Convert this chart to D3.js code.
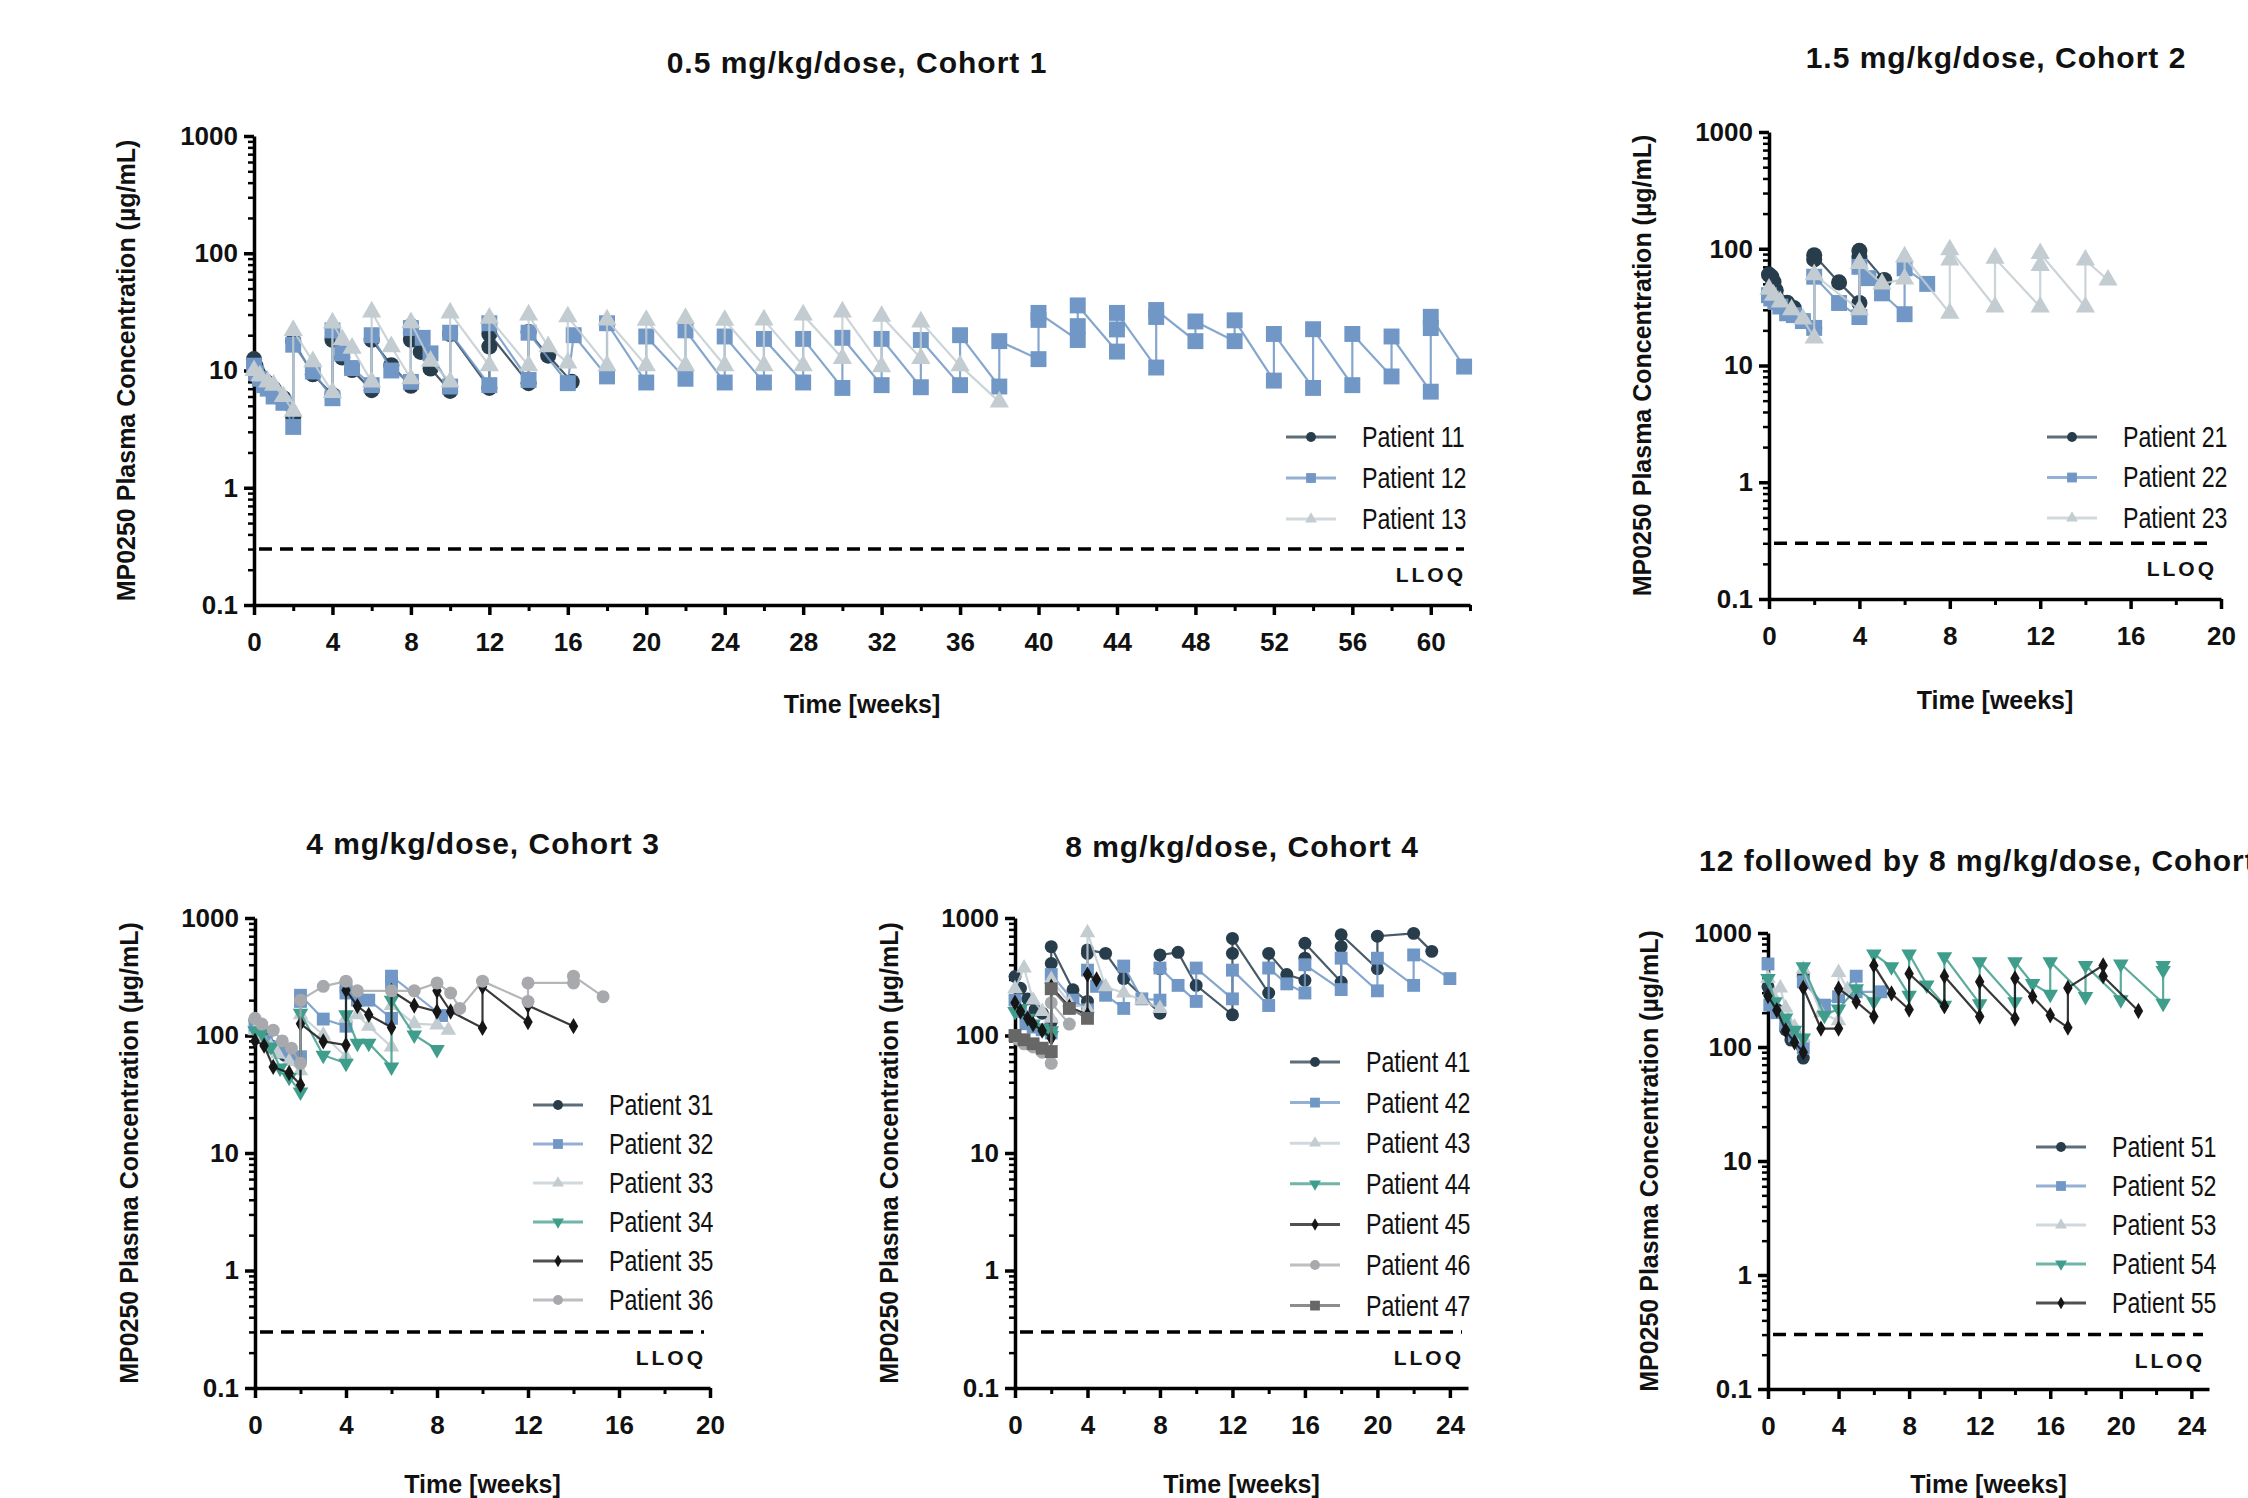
<!DOCTYPE html>
<html>
<head>
<meta charset="utf-8">
<script src="https://cdn.jsdelivr.net/npm/d3@7"></script>
<style>
  body { margin: 0; background: #fff; }
  svg { display: block; }
  text { font-family: "Liberation Sans", Arial, sans-serif; fill: #111; }
</style>
</head>
<body>
<svg id="chart" width="2248" height="1498"></svg>
<script>
// ---- data: [week, concentration ug/mL] ----
const LLOQ = 0.3;
const yMajor = [0.1, 1, 10, 100, 1000];

// cohort 1, 0.5 mg/kg
const p11 = [[0,12.5],[0.07,11],[0.15,10],[0.3,9],[0.5,8.3],[0.7,7.8],[1,7],[1.5,5.8],[2,4],[2,17.8],[3,9.3],[4,6.2],[4,18.3],[4.5,12.9],[5,10.1],[6,6.8],[6,18.3],[7,11.1],[8,7.4],[8,18.3],[8,21],[8,24],[8.5,14.4],[9,10.4],[10,6.7],[10,20.5],[12,7.1],[12,16],[12,20.5],[14,7.8],[14,21.3],[15,13.4],[16.2,8]];
const p12 = [[0,11],[0.1,9.5],[0.3,8.5],[0.5,7.5],[0.7,7],[1,6],[1.5,5.3],[2,3.3],[2,16.6],[3,9.8],[4,5.8],[4,22],[4.5,14],[5,10.5],[6,7.5],[6,20],[7,10],[8,8],[8,23],[8.6,19],[9,14],[10,7.3],[10,21],[12,7.5],[12,25.3],[14,8.3],[14,21],[16,7.8],[16.3,20],[18,8.9],[18,25.3],[20,7.9],[20,19.5],[22,8.5],[22,22],[24,7.9],[24,19.5],[26,7.9],[26,18.6],[28,7.9],[28,18.6],[30,7.1],[30,19],[32,7.5],[32,18.6],[34,7.2],[34,18.2],[36,7.5],[36,20],[38,7.3],[38,17.8],[40,12.5],[40,27],[40,31],[42,18.2],[42,23.9],[42,35.9],[44,14.5],[44,22.4],[44,31],[46,10.6],[46,28.6],[46,32.8],[48,17.8],[48,26.2],[50,17.8],[50,26.8],[52,8.2],[52,20.5],[54,7.1],[54,22.5],[56,7.5],[56,20.5],[58,8.9],[58,19.5],[60,6.6],[60,23],[60,28.7],[61.7,10.8]];
const p13 = [[0,10],[0.3,9],[0.7,8],[1,7.5],[1.5,6],[2,4.5],[2,22],[3,11.9],[4,6.5],[4,25.5],[4.5,18.3],[5,15.5],[6,8],[6,31.6],[7,16],[8,8.5],[8,25.6],[9,12],[10,8],[10,31],[12,11],[12,28],[14,11],[14,29.8],[15,16],[16,11.6],[16,28.7],[18,11],[18,27],[20,11],[20,26.8],[22,11],[22,27.8],[24,11],[24,26.8],[26,11],[26,27],[28,11],[28,29.8],[30,12.7],[30,31.6],[32,10.8],[32,29],[34,12.7],[34,26],[36,11],[38,5.4]];

// cohort 2, 1.5 mg/kg
const p21 = [[0,60],[0.1,57.6],[0.2,52],[0.3,44],[0.5,35],[0.8,34.5],[1.1,31],[1.5,24.3],[2,21],[2,81],[2,88],[3.1,51.5],[4,34.3],[4,85],[4,96],[5.1,54]];
const p22 = [[0,40],[0.1,37.5],[0.3,35],[0.5,32],[0.8,28],[1.1,27],[1.5,24],[2,21],[2,57.6],[3.1,34.3],[4,26],[4,70],[4.4,56],[5,41.5],[6,27.5],[6,68],[7,50]];
const p23 = [[0,45],[0.2,40],[0.5,35],[1,30],[1.5,25],[2,17.2],[2,60],[4,30],[4,75],[5,50],[6,55],[6,85],[8,28],[8,80],[8,98],[10,31.7],[10,83],[12,31.7],[12,72],[12,91],[14,31.7],[14,80],[15,54]];

// cohort 3, 4 mg/kg
const p31 = [[0,135],[0.1,120],[0.3,100],[0.5,90],[0.7,82],[1,75],[1.3,68]];
const p32 = [[0,120],[0.2,105],[0.5,90],[0.8,80],[1.1,72],[1.6,64],[2,66],[2,195],[2,220],[3,138],[4,120],[4,230],[4,260],[4.5,200],[5,200],[6,140],[6,280],[6,320],[8.2,148]];
const p33 = [[0,110],[0.3,95],[0.7,80],[1,70],[1.5,60],[2,50],[2,150],[3,101],[4,66],[4,140],[4.5,150],[5,120],[6,80],[6,180],[7,126],[8,123],[8.5,111]];
const p34 = [[0,110],[0.3,105],[0.7,80],[1.1,53],[1.5,44],[2,33],[2,155],[3,68],[4,58],[4,150],[4.5,86],[5,86],[6,54],[6,200],[7,101],[8,76]];
const p35 = [[0,90],[0.4,82],[0.8,54],[1.5,48],[2,38],[2,126],[3,89],[4,83],[4,243],[4.5,178],[5,150],[6,117],[6,240],[7,180],[8,160],[8,240],[8.6,160],[10,116],[10,260],[12,130],[12,180],[14,120]];
const p36 = [[0,140],[0.3,125],[0.8,111],[1.2,90],[1.6,78],[2,58],[2,200],[3,262],[4,290],[4.5,240],[6,240],[7,240],[8,280],[8.6,230],[9,170],[10,290],[12,195],[12,280],[14,280],[14,320],[15.3,214]];

// cohort 4, 8 mg/kg
const p41 = [[0,318],[0.3,252],[0.7,205],[1.1,165],[1.5,155],[2,130],[2,410],[2,570],[3.2,245],[4,195],[4,500],[4,535],[5,500],[6,305],[8,155],[8,370],[8,485],[9,510],[10,267],[12,150],[12,500],[12,670],[14,230],[14,500],[15,330],[16,295],[16,455],[16,610],[18,285],[18,570],[18,720],[20,370],[20,700],[22,740],[23,520]];
const p42 = [[0,200],[0.3,160],[0.6,126],[1,118],[1.5,112],[2,105],[2,330],[3.2,200],[4,165],[4,360],[4.5,262],[5,220],[6,170],[6,390],[7,205],[8,200],[8,375],[9,267],[10,195],[10,375],[12,205],[12,360],[14,180],[14,375],[15,275],[16,230],[16,400],[18,246],[18,455],[20,240],[20,455],[22,267],[22,485],[24,305]];
const p43 = [[0,250],[0.5,375],[1,200],[1.5,160],[2,140],[2,300],[3,190],[4,170],[4,750],[5,260],[6,230],[7,200],[8,170]];
const p44 = [[0,160],[0.3,170],[0.7,140],[1,125],[1.5,115],[2,100],[2,110]];
const p45 = [[0,190],[0.3,160],[0.7,140],[1,125],[1.5,110],[2,95],[2,260],[3,175],[4,150],[4,330],[4.5,300]];
const p46 = [[0,100],[0.2,92],[0.5,85],[1,80],[1.5,72],[2,58],[2,190],[3,125]];
const p47 = [[0,100],[0.5,92],[1,85],[1.5,78],[2,73],[2,250],[3,170],[4,140]];

// cohort 5, 12 then 8 mg/kg
const p51 = [[0,338],[0.1,295],[0.5,213],[1,142],[1.3,115],[2,80],[2,418],[3.2,207]];
const p52 = [[0,535],[0.1,233],[0.5,200],[1,157],[1.5,125],[2,98],[2,373],[3.2,233],[4,276],[5,418],[5,305],[6.4,305]];
const p53 = [[0,400],[0.3,280],[0.7,330],[1,220],[1.5,150],[2,120],[2,480],[3,200],[4,170],[4,450],[4.5,320]];
const p54 = [[0,400],[0.4,250],[1,180],[1.5,140],[2,120],[2,505],[3.2,190],[4,216],[5,325],[6,250],[6,655],[7,505],[8,285],[8,655],[9,350],[10,233],[10,620],[12,240],[12,560],[14,250],[14,560],[15,360],[16,290],[16,560],[18,277],[18,520],[20,260],[20,535],[22.4,242],[22.4,470],[22.4,520]];
const p55 = [[0,280],[0.5,210],[1,140],[1.5,110],[2,90],[2,330],[3,145],[4,145],[4,325],[5,250],[6,185],[6,520],[7,295],[8,213],[8,440],[10,228],[10,418],[12,185],[12,373],[14,178],[14,400],[15,277],[16,190],[17,148],[17,330],[19,520],[19,418],[21,207]];

// ---- styles ----
const col = {
  dark: "#283d4b", blue: "#7097c5", light: "#c2ccd1", teal: "#3f9d8b",
  black: "#161616", gray: "#a7a9ac", dgray: "#676767"
};
const sym = {
  circle: d3.symbolCircle, square: d3.symbolSquare, tri: d3.symbolTriangle,
  down: d3.symbolTriangle, diamond: d3.symbolDiamond
};

const panels = [
  { title: "0.5 mg/kg/dose, Cohort 1", tx: 857, ty: 73, anchor: "middle",
    x0: 254, x1: 1470, y0: 136, y1: 605, xMax: 62, xLast: 60,
    yLabX: 126, xLabY: 713, leg: [1286, 437, 41], ms: 1.3,
    series: [["Patient 11", p11, col.dark, "circle"], ["Patient 12", p12, col.blue, "square"], ["Patient 13", p13, col.light, "tri"]] },
  { title: "1.5 mg/kg/dose, Cohort 2", tx: 1996, ty: 68, anchor: "middle",
    x0: 1769, x1: 2221, y0: 132, y1: 599, xMax: 20, xLast: 20,
    yLabX: 1642, xLabY: 709, leg: [2047, 437, 40.5], ms: 1.3,
    series: [["Patient 21", p21, col.dark, "circle"], ["Patient 22", p22, col.blue, "square"], ["Patient 23", p23, col.light, "tri"]] },
  { title: "4 mg/kg/dose, Cohort 3", tx: 483, ty: 854, anchor: "middle",
    x0: 255, x1: 710, y0: 918, y1: 1388, xMax: 20, xLast: 20,
    yLabX: 129, xLabY: 1493, leg: [533, 1105, 39], ms: 1.05,
    series: [["Patient 31", p31, col.dark, "circle"], ["Patient 32", p32, col.blue, "square"], ["Patient 33", p33, col.light, "tri"],
             ["Patient 34", p34, col.teal, "down"], ["Patient 35", p35, col.black, "diamond"], ["Patient 36", p36, col.gray, "circle"]] },
  { title: "8 mg/kg/dose, Cohort 4", tx: 1242, ty: 857, anchor: "middle",
    x0: 1015, x1: 1468, y0: 918, y1: 1388, xMax: 25, xLast: 24,
    yLabX: 889, xLabY: 1493, leg: [1290, 1062, 40.6], ms: 1.05,
    series: [["Patient 41", p41, col.dark, "circle"], ["Patient 42", p42, col.blue, "square"], ["Patient 43", p43, col.light, "tri"],
             ["Patient 44", p44, col.teal, "down"], ["Patient 45", p45, col.black, "diamond"], ["Patient 46", p46, col.gray, "circle"],
             ["Patient 47", p47, col.dgray, "square"]] },
  { title: "12 followed by 8 mg/kg/dose, Cohort 5", tx: 1699, ty: 871, anchor: "start",
    x0: 1768, x1: 2209, y0: 933, y1: 1389, xMax: 25, xLast: 24,
    yLabX: 1649, xLabY: 1493, leg: [2036, 1147, 39], ms: 1.05,
    series: [["Patient 51", p51, col.dark, "circle"], ["Patient 52", p52, col.blue, "square"], ["Patient 53", p53, col.light, "tri"],
             ["Patient 54", p54, col.teal, "down"], ["Patient 55", p55, col.black, "diamond"]] }
];

const svg = d3.select("#chart");

// minor log ticks 2..9 per decade
const yMinor = [];
for (let e = -1; e < 3; e++) for (let k = 2; k < 10; k++) yMinor.push(k * Math.pow(10, e));

function symPath(shape, scale) {
  const base = { circle: 120, square: 150, tri: 95, down: 95, diamond: 70 }[shape];
  return d3.symbol().type(sym[shape]).size(base * scale * scale)();
}

function drawPanel(p) {
  const g = svg.append("g");
  const x = d3.scaleLinear().domain([0, p.xMax]).range([p.x0, p.x1]);
  const y = d3.scaleLog().domain([0.1, 1000]).range([p.y1, p.y0]);

  g.append("text").attr("x", p.tx).attr("y", p.ty).attr("text-anchor", p.anchor)
    .style("font-size", "30px").style("font-weight", "bold").style("letter-spacing", "1px")
    .text(p.title);

  // y axis
  const ya = g.append("g").attr("transform", `translate(${p.x0},0)`)
    .call(d3.axisLeft(y).tickValues(yMajor).tickFormat(d3.format("~g")).tickSize(10).tickPadding(6).tickSizeOuter(0));
  const yb = g.append("g").attr("transform", `translate(${p.x0},0)`)
    .call(d3.axisLeft(y).tickValues(yMinor).tickFormat("").tickSize(6).tickSizeOuter(0));
  yb.select(".domain").remove();
  yb.selectAll("line").attr("stroke-width", 2.5);

  // x axis
  const xMaj = d3.range(0, p.xLast + 1, 4);
  const xMin = d3.range(2, p.xMax + 0.01, 4);
  const xa = g.append("g").attr("transform", `translate(0,${p.y1})`)
    .call(d3.axisBottom(x).tickValues(xMaj).tickSize(10).tickPadding(18).tickSizeOuter(0));
  const xb = g.append("g").attr("transform", `translate(0,${p.y1})`)
    .call(d3.axisBottom(x).tickValues(xMin).tickFormat("").tickSize(6).tickSizeOuter(0));
  xb.select(".domain").remove();
  xb.selectAll("line").attr("stroke-width", 3);

  [ya, xa].forEach(a => {
    a.select(".domain").attr("stroke", "#000").attr("stroke-width", 3.5);
    a.selectAll(".tick line").attr("stroke", "#000").attr("stroke-width", 3.5);
    a.selectAll(".tick text").style("font-size", "26px").style("font-weight", "bold").attr("fill", "#111");
  });

  // axis titles
  g.append("text").attr("transform", `translate(${p.yLabX},${(p.y0 + p.y1) / 2}) rotate(-90)`)
    .attr("text-anchor", "middle").attr("dominant-baseline", "central")
    .style("font-size", "25px").style("font-weight", "bold")
    .text("MP0250 Plasma Concentration (µg/mL)");
  g.append("text").attr("x", (p.x0 + p.x1) / 2).attr("y", p.xLabY).attr("text-anchor", "middle")
    .style("font-size", "25px").style("font-weight", "bold").text("Time [weeks]");

  // LLOQ
  g.append("line").attr("x1", p.x0 + 5).attr("x2", p.x1 - 6)
    .attr("y1", y(LLOQ)).attr("y2", y(LLOQ))
    .attr("stroke", "#000").attr("stroke-width", 3.5).attr("stroke-dasharray", "13,8");
  g.append("text").attr("x", p.x1 - 4).attr("y", y(LLOQ) + 33).attr("text-anchor", "end")
    .style("font-size", "21px").style("font-weight", "bold").style("letter-spacing", "3px")
    .text("LLOQ");

  // series
  const line = d3.line().x(d => x(d[0])).y(d => y(d[1]));
  p.series.forEach(([name, data, c, shape]) => {
    const sg = g.append("g");
    sg.append("path").datum(data).attr("d", line)
      .attr("fill", "none").attr("stroke", c).attr("stroke-width", 2.2).attr("stroke-opacity", 0.85);
    sg.selectAll("path.pt").data(data).join("path").attr("class", "pt")
      .attr("transform", d => `translate(${x(d[0])},${y(d[1])})${shape === "down" ? " rotate(180)" : ""}`)
      .attr("d", symPath(shape, p.ms)).attr("fill", c);
  });

  // legend (text squeezed horizontally to mimic the condensed face)
  const [lx, ly, step] = p.leg;
  p.series.forEach(([name, data, c, shape], i) => {
    const yy = ly + i * step;
    g.append("line").attr("x1", lx).attr("x2", lx + 50).attr("y1", yy).attr("y2", yy)
      .attr("stroke", c).attr("stroke-width", 3).attr("stroke-opacity", 0.75);
    g.append("path").attr("transform", `translate(${lx + 25},${yy})${shape === "down" ? " rotate(180)" : ""}`)
      .attr("d", symPath(shape, 0.8)).attr("fill", c);
    g.append("text").attr("transform", `translate(${lx + 76},${yy}) scale(0.8,1)`)
      .attr("dominant-baseline", "central")
      .style("font-size", "29px").text(name);
  });
}

panels.forEach(drawPanel);
</script>
</body>
</html>
